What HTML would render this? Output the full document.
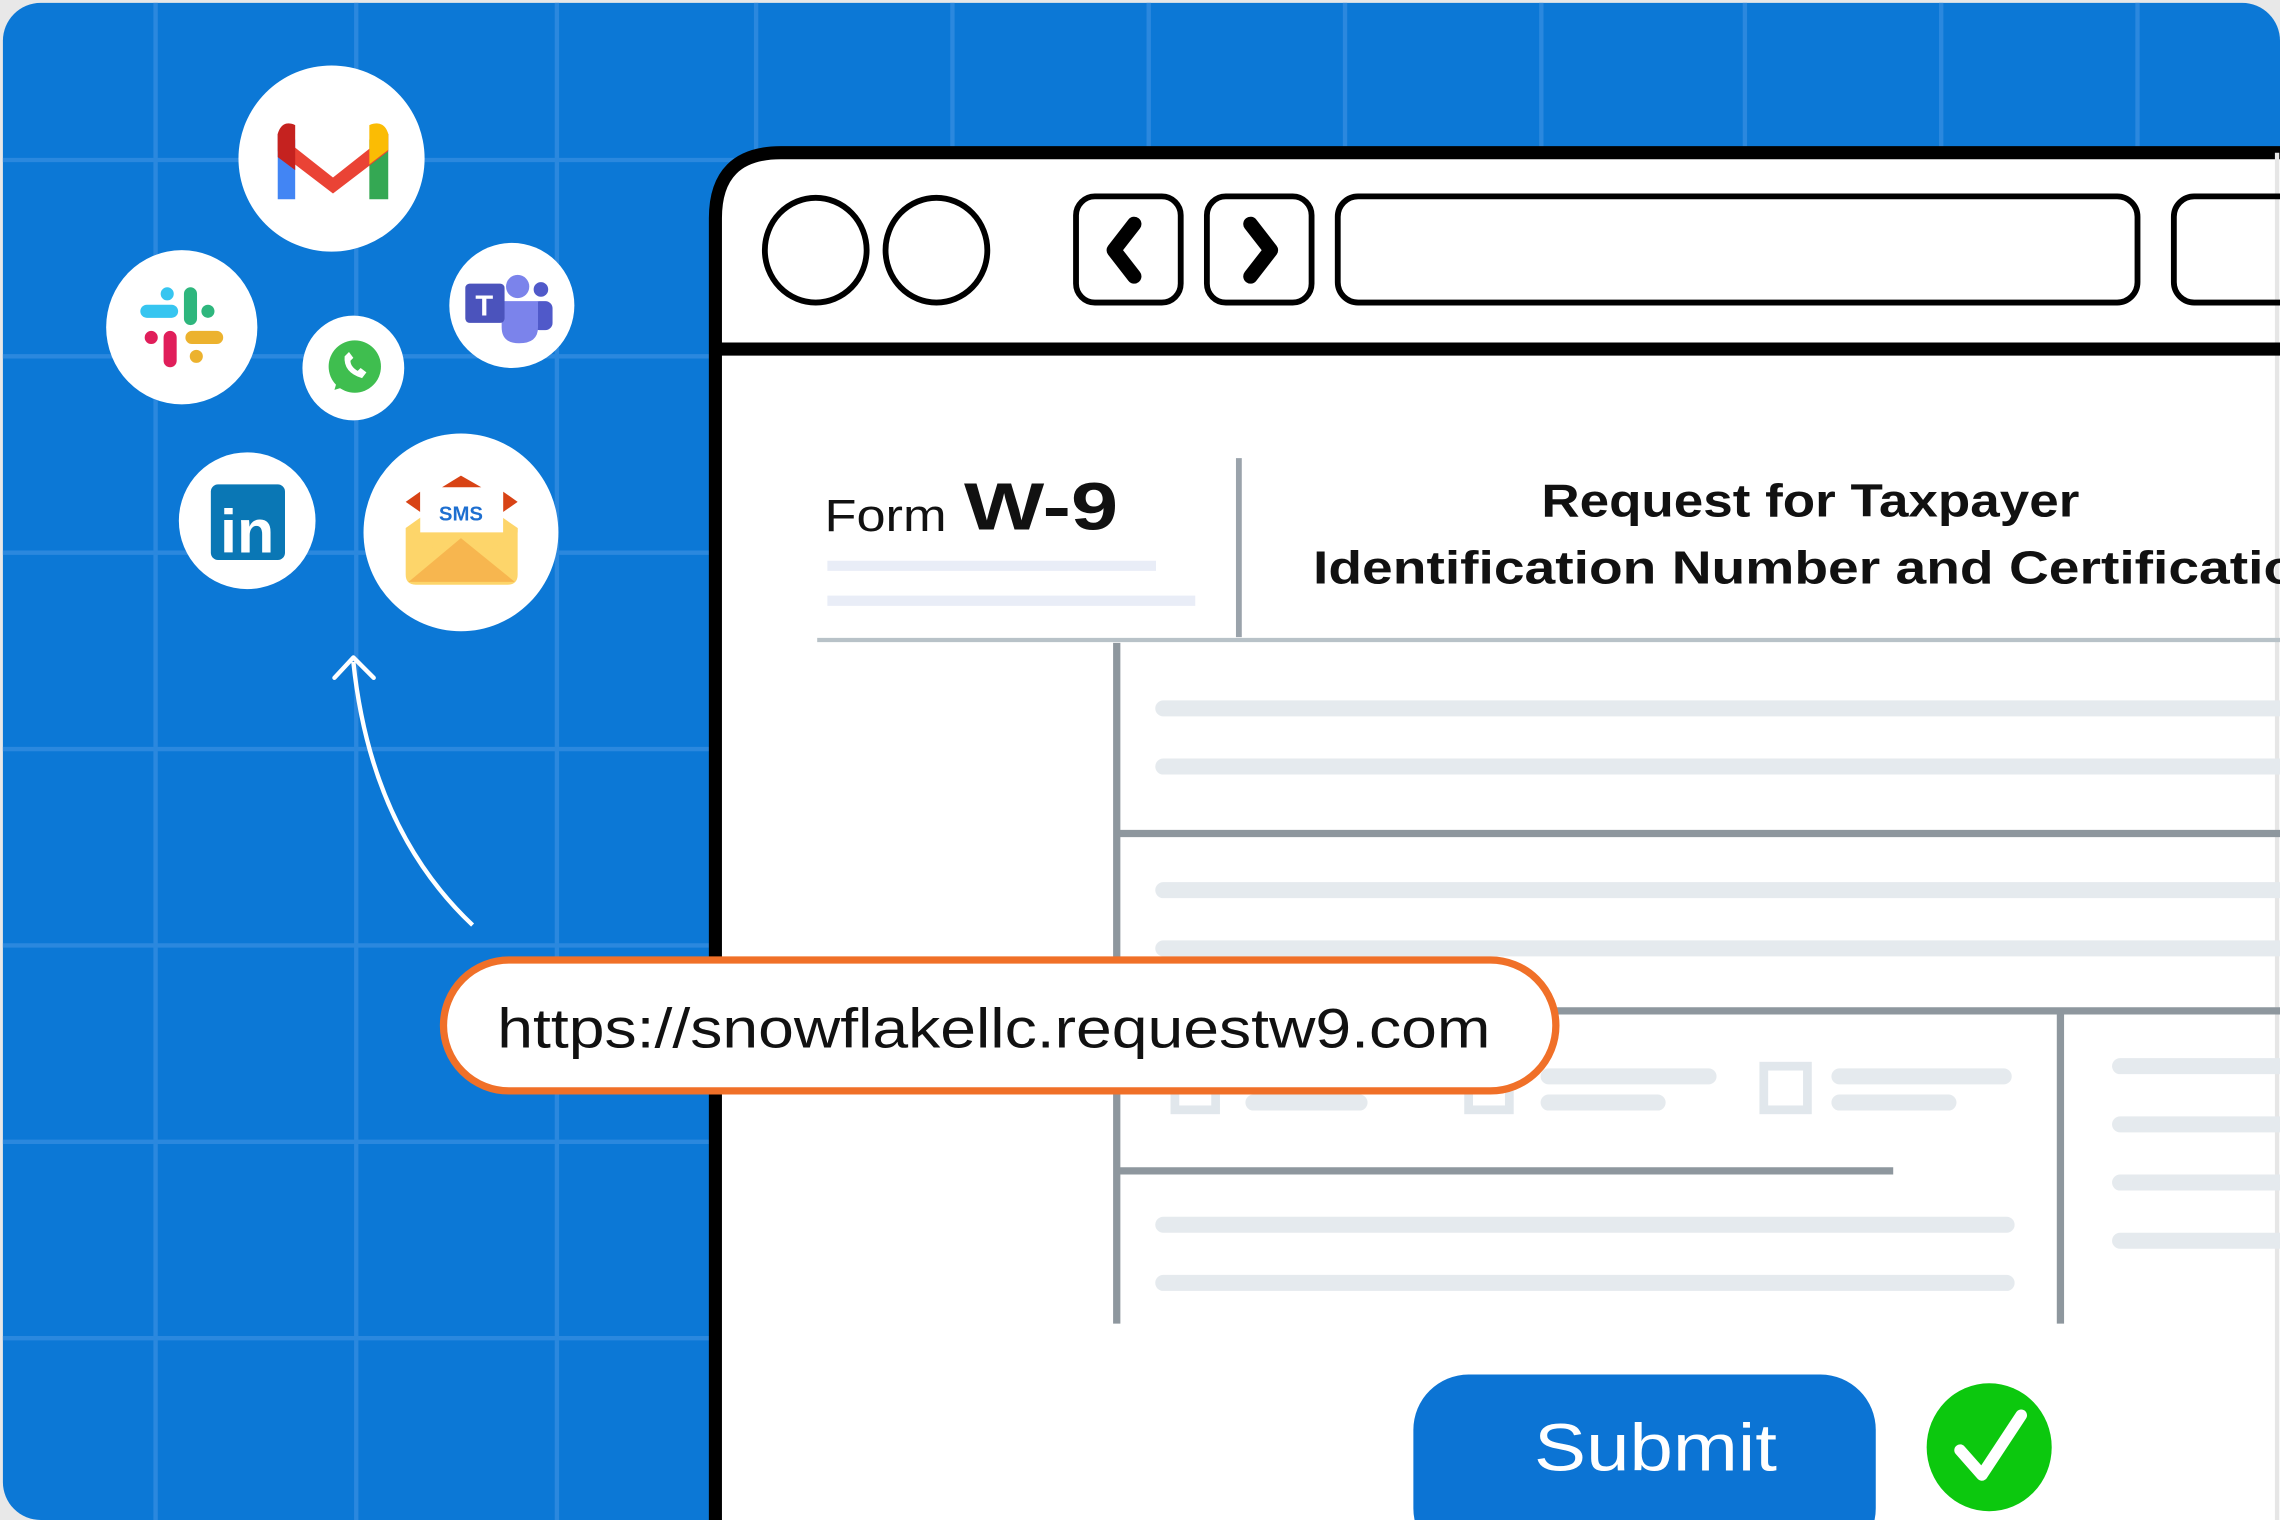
<!DOCTYPE html>
<html><head><meta charset="utf-8"><style>
html,body{margin:0;padding:0;background:#fff;}
svg{display:block;}
</style></head><body>
<svg width="2280" height="1520" viewBox="0 0 1568 1045" preserveAspectRatio="none" xmlns="http://www.w3.org/2000/svg">
<rect x="0" y="0" width="1568" height="1045" fill="#e8e8e8"/>
<rect x="2" y="2" width="1566" height="1043" rx="26" fill="#0C78D6"/>
<g stroke="#2B88DE" stroke-width="3">
<line x1="107" y1="2" x2="107" y2="1045"/><line x1="245" y1="2" x2="245" y2="1045"/><line x1="383" y1="2" x2="383" y2="1045"/>
<line x1="520" y1="2" x2="520" y2="1045"/><line x1="655" y1="2" x2="655" y2="1045"/><line x1="790" y1="2" x2="790" y2="1045"/>
<line x1="925" y1="2" x2="925" y2="1045"/><line x1="1060" y1="2" x2="1060" y2="1045"/><line x1="1200" y1="2" x2="1200" y2="1045"/>
<line x1="1335" y1="2" x2="1335" y2="1045"/><line x1="1470" y1="2" x2="1470" y2="1045"/>
<line x1="2" y1="110" x2="1568" y2="110"/><line x1="2" y1="245" x2="1568" y2="245"/><line x1="2" y1="380" x2="1568" y2="380"/>
<line x1="2" y1="515" x2="1568" y2="515"/><line x1="2" y1="650" x2="1568" y2="650"/><line x1="2" y1="785" x2="1568" y2="785"/>
<line x1="2" y1="920" x2="1568" y2="920"/>
</g>
<!-- browser -->
<path d="M492 1045 V150 Q492 105 537 105 H1568 V1045 Z" fill="#fff"/>
<path d="M492 1050 V150 Q492 105 537 105 H1570" fill="none" stroke="#000" stroke-width="9"/>
<line x1="1566" y1="105" x2="1566" y2="1045" stroke="#e6e6e6" stroke-width="3"/>
<line x1="492" y1="240" x2="1568" y2="240" stroke="#000" stroke-width="9"/>
<g fill="none" stroke="#000" stroke-width="4">
<ellipse cx="561" cy="172" rx="35" ry="36"/><ellipse cx="644" cy="172" rx="35" ry="36"/>
<rect x="740" y="135" width="72" height="73" rx="13"/><rect x="830" y="135" width="72" height="73" rx="13"/>
<rect x="920" y="135" width="550" height="73" rx="14"/><rect x="1495" y="135" width="100" height="73" rx="14"/>
</g>
<path d="M780 154 L766 172 L780 190" fill="none" stroke="#000" stroke-width="10" stroke-linecap="round" stroke-linejoin="round"/>
<path d="M860 154 L874 172 L860 190" fill="none" stroke="#000" stroke-width="10" stroke-linecap="round" stroke-linejoin="round"/>
<!-- form header -->
<text x="567" y="365" font-family="Liberation Sans, sans-serif" font-size="31" fill="#111" textLength="84" lengthAdjust="spacingAndGlyphs">Form</text>
<text x="663" y="364" font-family="Liberation Sans, sans-serif" font-size="46" font-weight="bold" fill="#111" textLength="106" lengthAdjust="spacingAndGlyphs">W-9</text>
<line x1="569" y1="389" x2="795" y2="389" stroke="#e9edf7" stroke-width="7"/>
<line x1="569" y1="413" x2="822" y2="413" stroke="#e9edf7" stroke-width="7"/>
<line x1="852" y1="315" x2="852" y2="438" stroke="#9aa3ab" stroke-width="4"/>
<line x1="562" y1="440" x2="1568" y2="440" stroke="#b8c2c8" stroke-width="3"/>
<text x="1060" y="355" font-family="Liberation Sans, sans-serif" font-size="32" font-weight="bold" fill="#111" textLength="370" lengthAdjust="spacingAndGlyphs">Request for Taxpayer</text>
<text x="903" y="401" font-family="Liberation Sans, sans-serif" font-size="32" font-weight="bold" fill="#111" textLength="700" lengthAdjust="spacingAndGlyphs">Identification Number and Certification</text>
<!-- form body -->
<g stroke="#8e979e" stroke-width="5">
<line x1="768" y1="442" x2="768" y2="910"/>
<line x1="768" y1="573" x2="1568" y2="573"/>
<line x1="900" y1="695" x2="1568" y2="695"/>
<line x1="1417" y1="697" x2="1417" y2="910"/>
<line x1="768" y1="805" x2="1302" y2="805"/>
</g>
<g stroke="#e5eaee" stroke-width="11" stroke-linecap="round">
<line x1="800" y1="487" x2="1568" y2="487"/><line x1="800" y1="527" x2="1568" y2="527"/>
<line x1="800" y1="612" x2="1568" y2="612"/><line x1="800" y1="652" x2="1568" y2="652"/>
<line x1="800" y1="842" x2="1380" y2="842"/><line x1="800" y1="882" x2="1380" y2="882"/>
<line x1="1458" y1="733" x2="1568" y2="733"/><line x1="1458" y1="773" x2="1568" y2="773"/>
<line x1="1458" y1="813" x2="1568" y2="813"/><line x1="1458" y1="853" x2="1568" y2="853"/>
<line x1="862" y1="758" x2="935" y2="758"/><line x1="1065" y1="740" x2="1175" y2="740"/><line x1="1065" y1="758" x2="1140" y2="758"/>
<line x1="1265" y1="740" x2="1378" y2="740"/><line x1="1265" y1="758" x2="1340" y2="758"/>
</g>
<g fill="none" stroke="#e1e7ec" stroke-width="6">
<rect x="808" y="735" width="28" height="28"/><rect x="1010" y="735" width="28" height="28"/><rect x="1213" y="733" width="30" height="30"/>
</g>
<!-- submit -->
<rect x="972" y="945" width="318" height="130" rx="38" fill="#0C74D4"/>
<text x="1055" y="1011" font-family="Liberation Sans, sans-serif" font-size="46" fill="#fff" textLength="167" lengthAdjust="spacingAndGlyphs">Submit</text>
<ellipse cx="1368" cy="995" rx="43" ry="44" fill="#0CC80E"/>
<path d="M1348 997 L1363 1014 L1390 973" fill="none" stroke="#fff" stroke-width="8" stroke-linecap="round" stroke-linejoin="round"/>
<!-- url pill -->
<rect x="305" y="660" width="765" height="90" rx="45" fill="#fff" stroke="#F07028" stroke-width="5"/>
<text x="342" y="720" font-family="Liberation Sans, sans-serif" font-size="38" fill="#111" textLength="683" lengthAdjust="spacingAndGlyphs">https://snowflakellc.requestw9.com</text>
<!-- arrow -->
<path d="M325 636 Q255 570 243 455" fill="none" stroke="#fff" stroke-width="3"/>
<path d="M230 466 L243 452 L257 466" fill="none" stroke="#fff" stroke-width="3" stroke-linecap="round" stroke-linejoin="round"/>
<!-- icons -->
<g fill="#fff">
<ellipse cx="228" cy="109" rx="64" ry="64"/><ellipse cx="125" cy="225" rx="52" ry="53"/>
<ellipse cx="243" cy="253" rx="35" ry="36"/><ellipse cx="352" cy="210" rx="43" ry="43"/>
<ellipse cx="170" cy="358" rx="47" ry="47"/><ellipse cx="317" cy="366" rx="67" ry="68"/>
</g>
<!-- gmail -->
<path d="M191 137 V92 L203 96 V137 Z" fill="#4285F4"/>
<path d="M254 137 V96 L267 92 V137 Z" fill="#34A853"/>
<path d="M191 92 L229 122 L267 92 L267 104 L229 133 L191 104 Z" fill="#EA4335"/>
<path d="M191 92 Q194 82 203 86 V117 L191 108 Z" fill="#C5221F"/>
<path d="M254 86 Q264 82 267 92 V103 L254 113 Z" fill="#FBBC04"/>
<!-- slack -->
<g stroke-linecap="round" stroke-width="9">
<line x1="101" y1="214" x2="118" y2="214" stroke="#36C5F0"/><line x1="115" y1="202" x2="115" y2="202" stroke="#36C5F0"/>
<line x1="131" y1="202" x2="131" y2="219" stroke="#2EB67D"/><line x1="143" y1="214" x2="143" y2="214" stroke="#2EB67D"/>
<line x1="132" y1="232" x2="149" y2="232" stroke="#ECB22E"/><line x1="135" y1="245" x2="135" y2="245" stroke="#ECB22E"/>
<line x1="117" y1="232" x2="117" y2="248" stroke="#E01E5A"/><line x1="104" y1="232" x2="104" y2="232" stroke="#E01E5A"/>
</g>
<!-- whatsapp -->
<circle cx="244" cy="252" r="18" fill="#3FBE4F"/>
<path d="M230 268 L233 258 L240 265 Z" fill="#3FBE4F"/>
<path d="M237 245 Q236 256 249 260 L252 256 L248 253 L246 255 Q241 252 241 248 L243 246 L240 242 Z" fill="#fff"/>
<!-- teams -->
<circle cx="356" cy="197" r="8" fill="#7B83EB"/><circle cx="372" cy="199" r="5" fill="#5059C9"/>
<rect x="366" y="207" width="14" height="20" rx="5" fill="#5059C9"/>
<path d="M345 207 H370 V225 Q370 236 357 236 Q345 236 345 225 Z" fill="#7B83EB"/>
<rect x="320" y="195" width="27" height="27" rx="3" fill="#4B53BC"/>
<text x="333" y="217" text-anchor="middle" font-family="Liberation Sans, sans-serif" font-size="20" font-weight="bold" fill="#fff">T</text>
<!-- linkedin -->
<rect x="145" y="333" width="51" height="52" rx="5" fill="#0A77B5"/>
<text x="170" y="380" text-anchor="middle" font-family="Liberation Sans, sans-serif" font-size="42" font-weight="bold" fill="#fff">in</text>
<!-- sms -->
<path d="M279 363 L317 336 L356 363 V395 Q356 402 349 402 H286 Q279 402 279 395 Z" fill="#FDD56A"/>
<path d="M304 335 L317 327 L331 335 Z" fill="#D84315"/>
<path d="M279 345 L289 338 V352 Z M356 345 L346 338 V352 Z" fill="#D84315"/>
<rect x="289" y="336" width="57" height="30" fill="#fff"/>
<path d="M279 363 L317 388 L356 363 V366 L317 391 Z" fill="#FDD56A"/>
<path d="M281 400 L317 370 L354 400 Z" fill="#F7B64F"/>
<text x="317" y="358" text-anchor="middle" font-family="Liberation Sans, sans-serif" font-size="14" font-weight="bold" fill="#1E6FD0">SMS</text>
</svg>
</body></html>
